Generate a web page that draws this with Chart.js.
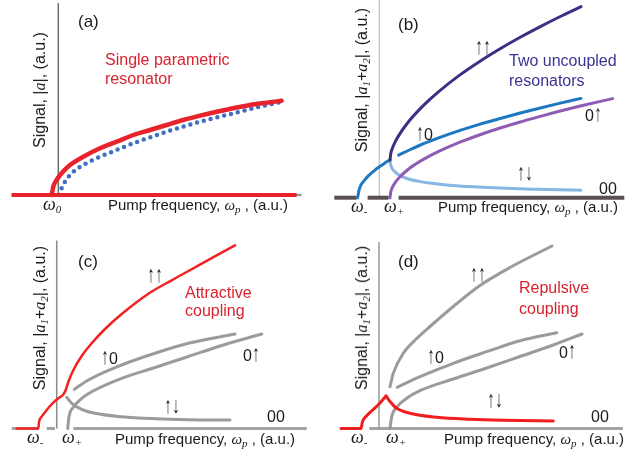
<!DOCTYPE html>
<html>
<head>
<meta charset="utf-8">
<script src="https://cdn.jsdelivr.net/npm/chart.js@4.4.1/dist/chart.umd.min.js"></script>
<style>
  body { margin:0; background:#fff; }
  #fig { position:relative; width:632px; height:454px; overflow:hidden; font-family:"Liberation Sans", Arial, sans-serif; color:#1a1a1a; }
  #fig canvas { position:absolute; }
  .t { position:absolute; font-size:16px; line-height:1; white-space:nowrap; }
  .ar { display:inline-block; transform:scale(0.9, 1.45); transform-origin:50% 85%; }
  .m { font-family:"Liberation Serif", "Times New Roman", serif; font-style:italic; }
  .m sub { font-size:11px; vertical-align:-3px; }
  .w { position:absolute; line-height:1; white-space:nowrap; font-family:"Liberation Serif", serif; font-style:italic; font-size:18px; }
  .w sub { font-size:11px; vertical-align:-3px; }
  .yl { position:absolute; font-size:16px; line-height:1; white-space:nowrap; transform:translate(-50%,-50%) rotate(-90deg); }
  .red { color:#d8232f; }
  .blue { color:#3a3392; }
</style>
</head>
<body>
<div id="fig">
  <canvas id="pa" width="316" height="227" style="left:0;top:0"></canvas>
  <canvas id="pb" width="316" height="227" style="left:316px;top:0"></canvas>
  <canvas id="pc" width="316" height="227" style="left:0;top:227px"></canvas>
  <canvas id="pd" width="316" height="227" style="left:316px;top:227px"></canvas>

  <!-- panel (a) -->
  <div class="t" style="left:78px;top:13px;font-size:17px">(a)</div>
  <div class="t red" style="left:105px;top:52px">Single parametric</div>
  <div class="t red" style="left:105px;top:71px">resonator</div>
  <div class="w" style="left:43px;top:195px">ω<sub>0</sub></div>
  <div class="t" style="left:108px;top:197px;font-size:15px">Pump frequency, <span class="m">ω<sub>p</sub></span> , (a.u.)</div>
  <div class="yl" style="left:40px;top:90px">Signal, |<span class="m">a</span>|, (a.u.)</div>

  <!-- panel (b) -->
  <div class="t" style="left:398px;top:16px;font-size:17px">(b)</div>
  <div class="t blue" style="left:509px;top:53px">Two uncoupled</div>
  <div class="t blue" style="left:509px;top:73px">resonators</div>
  <div class="t" style="left:475px;top:41px"><span class="ar">↑</span><span class="ar">↑</span></div>
  <div class="t" style="left:416px;top:127px"><span class="ar">↑</span>0</div>
  <div class="t" style="left:585px;top:108px">0<span class="ar">↑</span></div>
  <div class="t" style="left:517px;top:167px"><span class="ar">↑</span><span class="ar">↓</span></div>
  <div class="t" style="left:599px;top:181px">00</div>
  <div class="w" style="left:351px;top:197px">ω<sub>-</sub></div>
  <div class="w" style="left:384px;top:197px">ω<sub>+</sub></div>
  <div class="t" style="left:438px;top:199px;font-size:15px">Pump frequency, <span class="m">ω<sub>p</sub></span> , (a.u.)</div>
  <div class="yl" style="left:363px;top:80px">Signal, |<span class="m">a<sub>1</sub></span>+<span class="m">a<sub>2</sub></span>|, (a.u.)</div>

  <!-- panel (c) -->
  <div class="t" style="left:78px;top:253px;font-size:17px">(c)</div>
  <div class="t red" style="left:185px;top:285px">Attractive</div>
  <div class="t red" style="left:185px;top:303px">coupling</div>
  <div class="t" style="left:147px;top:269px"><span class="ar">↑</span><span class="ar">↑</span></div>
  <div class="t" style="left:101px;top:351px"><span class="ar">↑</span>0</div>
  <div class="t" style="left:243px;top:348px">0<span class="ar">↑</span></div>
  <div class="t" style="left:164px;top:400px"><span class="ar">↑</span><span class="ar">↓</span></div>
  <div class="t" style="left:267px;top:409px">00</div>
  <div class="w" style="left:27px;top:428px">ω<sub>-</sub></div>
  <div class="w" style="left:62px;top:428px">ω<sub>+</sub></div>
  <div class="t" style="left:115px;top:431px;font-size:15px">Pump frequency, <span class="m">ω<sub>p</sub></span> , (a.u.)</div>
  <div class="yl" style="left:41px;top:318px">Signal, |<span class="m">a<sub>1</sub></span>+<span class="m">a<sub>2</sub></span>|, (a.u.)</div>

  <!-- panel (d) -->
  <div class="t" style="left:398px;top:253px;font-size:17px">(d)</div>
  <div class="t red" style="left:519px;top:280px">Repulsive</div>
  <div class="t red" style="left:519px;top:301px">coupling</div>
  <div class="t" style="left:470px;top:268px"><span class="ar">↑</span><span class="ar">↑</span></div>
  <div class="t" style="left:427px;top:350px"><span class="ar">↑</span>0</div>
  <div class="t" style="left:559px;top:345px">0<span class="ar">↑</span></div>
  <div class="t" style="left:487px;top:394px"><span class="ar">↑</span><span class="ar">↓</span></div>
  <div class="t" style="left:591px;top:409px">00</div>
  <div class="w" style="left:351px;top:428px">ω<sub>-</sub></div>
  <div class="w" style="left:386px;top:428px">ω<sub>+</sub></div>
  <div class="t" style="left:444px;top:431px;font-size:15px">Pump frequency, <span class="m">ω<sub>p</sub></span> , (a.u.)</div>
  <div class="yl" style="left:363px;top:318px">Signal, |<span class="m">a<sub>1</sub></span>+<span class="m">a<sub>2</sub></span>|, (a.u.)</div>
</div>

<script>
'use strict'

// values in a.u. : x = pump frequency (0 at the signal axis), y = signal

// (a) single parametric resonator
var aCurve = [[-0.66,0],[-0.5,0.83],[-0.17,1.5],[0.33,2.17],[1.17,3.0],[2.5,3.83],[4.17,4.67],[5.83,5.33],[7.5,6.0],[9.17,6.5],[10.83,7.0],[12.5,7.5],[14.17,7.93],[15.83,8.33],[17.5,8.67],[19.17,9.0],[20.83,9.23],[22.33,9.43]];
var aDots = [[0.17,0],[0.33,0.67],[0.67,1.33],[1.33,2.17],[2.5,3.0],[4.17,3.83],[5.83,4.5],[7.5,5.17],[10.83,6.33],[14.17,7.33],[17.5,8.17],[20.83,9.0],[22.17,9.27]];
var aZero = [[-4.67,23.83]];
var aAxisTop = 19.2;

// (b) two uncoupled resonators
var bLow = [[-2.17,0],[-2.0,0.87],[-1.5,1.72],[-1.0,2.27],[-0.5,2.71],[0,3.09],[0.5,3.43],[1.07,3.78]];
var bUpUp = [[1.07,3.78],[1.15,4.42],[1.3,4.92],[1.6,5.61],[2.0,6.31],[3,7.69],[4,8.81],[5,9.78],[6,10.66],[8,12.23],[10,13.6],[12,14.84],[14,15.99],[16,17.06],[18,18.07],[20.17,19.11]];
var bUpZero = [[1.93,4.25],[3,4.77],[4,5.22],[6,6.0],[8,6.7],[10,7.33],[12,7.9],[14,8.44],[16,8.95],[18,9.43],[20.17,9.93]];
var bZeroUp = [[1.07,0],[1.15,0.59],[1.3,1.01],[1.6,1.53],[2,2.03],[3,2.92],[4,3.59],[5,4.16],[6,4.66],[8,5.53],[10,6.27],[12,6.94],[14,7.55],[16,8.11],[18,8.64],[20,9.14],[23.33,9.91]];
var bUpDown = [[1.07,3.78],[1.15,3.24],[1.3,2.9],[1.6,2.55],[2,2.26],[3,1.85],[4,1.63],[5,1.46],[6,1.34],[8,1.17],[10,1.06],[12,0.96],[14,0.89],[16,0.84],[18,0.79],[20.17,0.75]];
var bZero = [[-4.5,-2.27],[-1.17,0.93],[1.93,24.5]];
var bAxisTop = 19.8;

// (c) attractive coupling
var cUpUp = [[-4.0,0],[-1.84,0],[-1.76,0.68],[-1.5,1.18],[-1.0,1.85],[-0.34,2.58],[0.16,3.02],[0.66,3.4],[0.92,3.9],[1.17,4.68],[1.67,5.85],[2.5,7.25],[3.5,8.52],[4.83,9.95],[6.5,11.45],[9.17,13.48],[11.5,14.82],[14.5,16.48],[17.83,18.32]];
var cUpZero = [[1.76,3.92],[3.17,4.85],[6.5,6.35],[9.83,7.52],[13.17,8.52],[17.83,9.45]];
var cZeroUp = [[1.1,0],[1.23,1.18],[1.67,2.12],[2.5,3.02],[3.83,3.85],[6.5,5.02],[9.83,6.1],[13.17,7.2],[16.5,8.3],[20.5,9.45]];
var cUpDown = [[1.0,3.12],[1.5,2.52],[2.5,1.92],[3.83,1.52],[6.5,1.18],[9.83,0.98],[13.17,0.88],[17.33,0.85]];
var cZero = [[-4.5,-1.84],[-1.0,-0.17],[1.67,25.0]];
var cAxisTop = 18.8;

// (d) repulsive coupling
var dUpUp = [[1.1,4.18],[1.43,5.52],[2.43,7.52],[3.77,9.0],[5.1,10.2],[7.43,12.2],[10.1,14.3],[13.1,16.1],[17.3,18.25]];
var dUpZero = [[1.83,4.12],[4.1,5.18],[7.43,6.52],[10.77,7.68],[14.1,8.78],[17.77,9.58]];
var dZeroUp = [[1.1,0],[1.27,1.18],[1.77,2.12],[2.77,3.02],[4.1,3.78],[7.43,4.95],[10.77,6.05],[14.1,7.2],[17.43,8.35],[20.3,9.45]];
var dRise = [[-3.8,0],[-1.8,0],[-1.65,0.7],[-1.3,1.2],[-0.63,1.85],[0,2.45],[0.7,3.25]];
var dFall = [[0.7,3.25],[1.1,2.7],[1.77,2.02],[3.1,1.52],[5.77,1.12],[9.1,0.92],[12.43,0.82],[17.43,0.75]];
var dZero = [[-0.97,24.4]];
var dAxisTop = 18.65;

var GRAY = '#9b9b9b';

function line(pts, color, width, extra) {
  return Object.assign({
    data: pts.map(function (p) { return { x: p[0], y: p[1] }; }),
    borderColor: color,
    borderWidth: width,
    fill: false,
    pointRadius: 0,
    cubicInterpolationMode: 'monotone',
    borderCapStyle: 'round',
    borderJoinStyle: 'round'
  }, extra || {});
}

function zeroLine(segs, color, width) {
  return segs.map(function (s) { return line([[s[0], 0], [s[1], 0]], color, width, { borderCapStyle: 'butt' }); });
}

function axisLine(top, color) {
  return line([[0, 0], [0, top]], color, 1.5, { borderCapStyle: 'butt' });
}

function renderPanel(id, box, sets) {
  new Chart(document.getElementById(id), {
    type: 'line',
    data: { datasets: sets },
    options: {
      responsive: false,
      animation: false,
      devicePixelRatio: 1,
      layout: { padding: 0 },
      plugins: { legend: { display: false }, tooltip: { enabled: false } },
      scales: {
        x: { type: 'linear', display: false, min: box[0], max: box[1] },
        y: { type: 'linear', display: false, min: box[2], max: box[3] }
      }
    }
  });
}

// first dataset is drawn on top
renderPanel('pa', [-5.83, 25.77, -3.2, 19.5], [].concat(
  [line(aCurve, '#e8232b', 4.5)],
  zeroLine(aZero, '#e8232b', 4),
  [line(aDots, '#3f6fc0', 4.5, { borderDash: [0, 7] })],
  zeroLine([[-4.67, 24.33]], '#777', 1.5),
  [axisLine(aAxisTop, '#6b6b6b')]
));

renderPanel('pb', [-6.33, 25.27, -2.93, 19.77], [].concat(
  [line(bUpUp, '#3e2f85', 3),
   line(bLow, '#1d78c1', 3),
   line(bUpZero, '#1d78c1', 3),
   line(bZeroUp, '#8f5cb4', 3),
   line(bUpDown, '#86b6e4', 3)],
  zeroLine(bZero, '#5b5050', 4),
  [axisLine(bAxisTop, '#c8c8c8')]
));

renderPanel('pc', [-5.67, 25.93, -2.55, 20.15], [].concat(
  [line(cUpUp, '#f22222', 2.5),
   line(cUpZero, GRAY, 3),
   line(cZeroUp, GRAY, 3),
   line(cUpDown, GRAY, 3)],
  zeroLine(cZero, '#a3a3a3', 3),
  [axisLine(cAxisTop, '#8a8a8a')]
));

renderPanel('pd', [-6.3, 25.3, -2.55, 20.15], [].concat(
  [line(dRise, '#f01e1e', 3),
   line(dFall, '#f01e1e', 3),
   line(dUpUp, GRAY, 3),
   line(dUpZero, GRAY, 3),
   line(dZeroUp, GRAY, 3)],
  zeroLine(dZero, '#a3a3a3', 3),
  [axisLine(dAxisTop, '#999')]
));
</script>
</body>
</html>
